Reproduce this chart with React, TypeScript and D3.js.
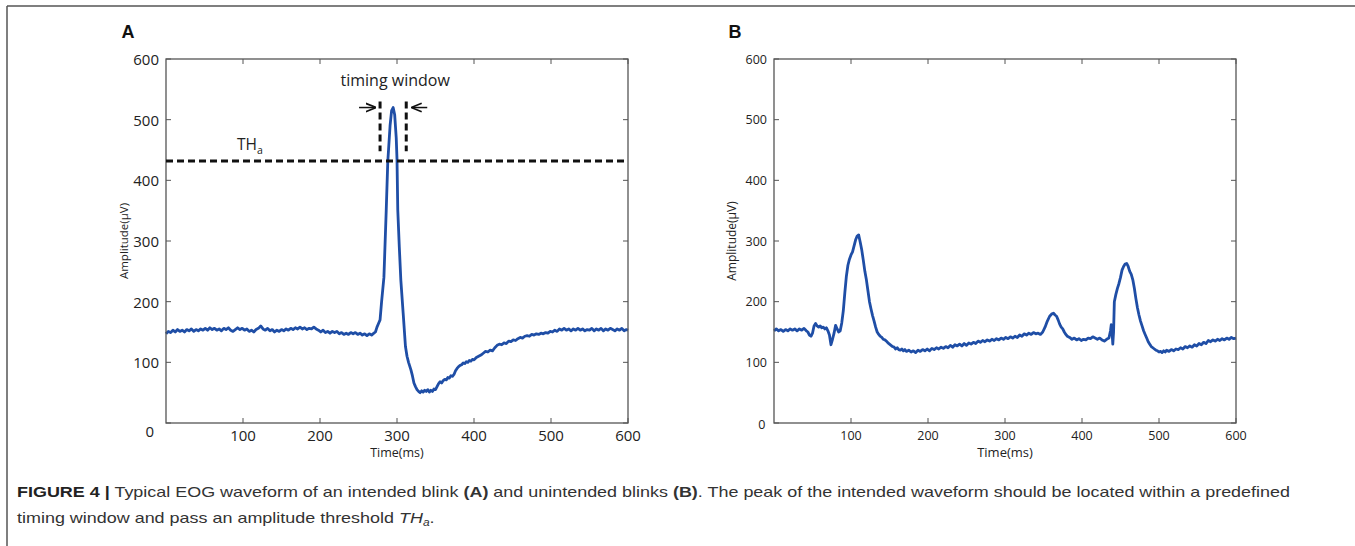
import React, { useLayoutEffect, useRef, useState } from "react";
import * as d3 from "d3";

// EOG traces: [time (ms), amplitude (µV)]
const blinkA: [number, number][] = [
  [0, 147], [3, 151], [6, 149], [9, 153], [12, 150], [15, 154], [18, 151], [21, 153], [24, 150], [27, 154],
  [30, 152], [33, 155], [36, 151], [39, 154], [42, 152], [45, 155], [48, 153], [51, 156], [54, 153], [57, 157],
  [60, 154], [63, 156], [66, 153], [69, 155], [72, 152], [75, 156], [78, 154], [81, 157], [84, 153], [87, 151],
  [90, 154], [93, 157], [96, 154], [99, 156], [102, 153], [105, 155], [108, 151], [111, 153], [114, 150], [117, 154],
  [120, 156], [123, 160], [126, 155], [129, 153], [132, 156], [135, 152], [138, 154], [141, 150], [144, 153], [147, 151],
  [150, 154], [153, 152], [156, 155], [159, 153], [162, 156], [165, 154], [168, 157], [171, 155], [174, 158], [177, 155],
  [180, 157], [183, 154], [186, 156], [189, 155], [192, 158], [195, 155], [198, 153], [201, 150], [204, 153], [207, 149],
  [210, 151], [213, 148], [216, 151], [219, 149], [222, 151], [225, 147], [228, 149], [231, 146], [234, 148], [237, 146],
  [240, 149], [243, 147], [246, 149], [249, 146], [252, 148], [255, 145], [258, 147], [261, 144], [264, 147], [267, 145],
  [270, 148], [272, 150], [274, 158], [276, 164], [278, 170], [280, 200], [283, 240], [286, 350], [288, 430], [291, 490],
  [293, 515], [295, 520], [297, 508], [299, 470], [300, 435], [301, 351], [303, 290], [305, 235], [308, 181], [311, 126],
  [313, 110], [315, 100], [318, 88], [320, 78], [322, 66], [324, 60], [326, 55], [328, 52], [330, 50], [332, 53],
  [334, 51], [336, 54], [338, 52], [340, 55], [342, 51], [344, 54], [346, 52], [348, 56], [350, 55], [352, 60],
  [354, 65], [356, 68], [358, 66], [360, 70], [362, 72], [364, 71], [366, 75], [368, 74], [370, 78], [372, 77],
  [374, 80], [376, 86], [378, 90], [380, 93], [382, 95], [384, 96], [386, 99], [388, 98], [390, 101], [392, 100],
  [394, 103], [396, 102], [398, 105], [400, 104], [403, 108], [406, 110], [409, 112], [412, 115], [415, 118], [418, 117],
  [421, 120], [424, 119], [427, 124], [430, 128], [433, 130], [436, 129], [439, 132], [442, 131], [445, 135], [448, 134],
  [451, 137], [454, 136], [457, 139], [460, 141], [463, 140], [466, 143], [469, 144], [472, 143], [475, 146], [478, 145],
  [481, 147], [484, 146], [487, 148], [490, 147], [493, 149], [496, 148], [499, 151], [502, 150], [505, 153], [508, 151],
  [511, 155], [514, 153], [517, 156], [520, 153], [523, 155], [526, 152], [529, 155], [532, 153], [535, 156], [538, 153],
  [541, 155], [544, 152], [547, 154], [550, 153], [553, 156], [556, 152], [559, 155], [562, 153], [565, 156], [568, 152],
  [571, 155], [574, 153], [577, 156], [580, 154], [583, 152], [586, 155], [589, 153], [592, 156], [595, 152], [598, 154],
  [600, 153],
];

const blinkB: [number, number][] = [
  [0, 152], [3, 155], [6, 152], [9, 154], [12, 151], [15, 154], [18, 152], [21, 155], [24, 153], [27, 155],
  [30, 152], [33, 155], [36, 153], [39, 156], [42, 152], [44, 150], [46, 145], [48, 143], [50, 148], [52, 160],
  [54, 164], [56, 160], [58, 158], [60, 160], [62, 157], [64, 158], [66, 155], [68, 157], [70, 152], [72, 145],
  [74, 129], [76, 138], [78, 148], [80, 161], [82, 155], [84, 150], [86, 152], [88, 165], [90, 185], [92, 215],
  [94, 242], [96, 260], [98, 270], [100, 277], [102, 282], [104, 292], [106, 302], [108, 308], [110, 310], [112, 298],
  [114, 285], [116, 268], [118, 250], [120, 236], [122, 218], [124, 200], [126, 188], [128, 177], [130, 168], [132, 158],
  [134, 150], [136, 146], [138, 143], [140, 141], [142, 138], [144, 137], [146, 135], [148, 132], [150, 130], [152, 128],
  [154, 126], [156, 125], [158, 122], [160, 124], [162, 121], [164, 120], [166, 122], [168, 119], [170, 121], [172, 118],
  [175, 120], [178, 117], [181, 119], [184, 116], [187, 120], [190, 118], [193, 121], [196, 119], [199, 122], [202, 119],
  [205, 123], [208, 121], [211, 124], [214, 122], [217, 125], [220, 123], [223, 126], [226, 124], [229, 128], [232, 125],
  [235, 129], [238, 127], [241, 130], [244, 127], [247, 131], [250, 128], [253, 132], [256, 130], [259, 133], [262, 131],
  [265, 135], [268, 133], [271, 136], [274, 134], [277, 137], [280, 135], [283, 138], [286, 136], [289, 139], [292, 137],
  [295, 140], [298, 138], [301, 141], [304, 139], [307, 142], [310, 140], [313, 143], [316, 141], [319, 145], [322, 143],
  [325, 147], [328, 145], [331, 148], [334, 146], [337, 149], [340, 147], [343, 148], [346, 146], [349, 150], [352, 158],
  [355, 168], [358, 176], [361, 180], [363, 181], [365, 178], [367, 176], [369, 170], [371, 163], [373, 158], [375, 155],
  [377, 150], [379, 146], [381, 143], [384, 141], [387, 138], [390, 140], [393, 137], [396, 139], [399, 136], [402, 138],
  [405, 137], [408, 140], [411, 139], [414, 142], [417, 140], [420, 138], [423, 140], [426, 137], [429, 135], [432, 138],
  [435, 140], [437, 152], [438, 162], [439, 150], [440, 130], [441, 150], [442, 200], [444, 212], [446, 222], [448, 230],
  [450, 240], [452, 252], [454, 258], [456, 262], [458, 263], [460, 258], [462, 250], [464, 245], [466, 236], [468, 222],
  [470, 205], [472, 190], [474, 178], [476, 168], [478, 160], [480, 152], [482, 146], [484, 140], [486, 134], [488, 130],
  [490, 126], [492, 124], [494, 122], [496, 120], [498, 119], [500, 117], [502, 118], [504, 116], [506, 119], [508, 117],
  [510, 120], [513, 118], [516, 121], [519, 119], [522, 122], [525, 121], [528, 124], [531, 122], [534, 126], [537, 124],
  [540, 127], [543, 125], [546, 129], [549, 127], [552, 131], [555, 129], [558, 133], [561, 131], [564, 136], [567, 134],
  [570, 137], [573, 135], [576, 138], [579, 136], [582, 139], [585, 137], [588, 140], [591, 138], [594, 141], [597, 139],
  [600, 140],
];

const timeTicks = [100, 200, 300, 400, 500, 600];
const ampTicks = [0, 100, 200, 300, 400, 500, 600];
const threshold = 432; // TH_a
const timingWindow = [278, 312];
const windowSpan = [448, 530]; // vertical extent of the window markers (µV)

const W = 1355;
const H = 546;
const plotTop = 59;
const plotBottom = 423;
const blue = "#1f4ea6";
const axisColor = "#555";
const font = "'Open Sans', 'DejaVu Sans', sans-serif";
const capFont = "'Liberation Sans', Arial, sans-serif";
const captionWidth = 1273; // first caption line runs from x=17 to ~1290

const makeScales = (left: number, right: number) => ({
  x: d3.scaleLinear().domain([0, 600]).range([left, right]),
  y: d3.scaleLinear().domain([0, 600]).range([plotBottom, plotTop]),
});

type PanelProps = {
  data: [number, number][];
  left: number;
  right: number;
  tickFont: number;
  titleFont: number;
  ampFont: number;
  ampX: number;
  zeroShift: number;
  children?: React.ReactNode;
};

const Panel = ({ data, left, right, tickFont, titleFont, ampFont, ampX, zeroShift, children }: PanelProps) => {
  const { x, y } = makeScales(left, right);
  const line = d3
    .line<[number, number]>()
    .x((d) => x(d[0]))
    .y((d) => y(d[1]));
  const tk = 5;
  const mid = (plotTop + plotBottom) / 2;

  return (
    <g>
      {/* data */}
      <path d={line(data) || ""} fill="none" stroke={blue} strokeWidth={2.8} strokeLinejoin="round" />

      {/* box */}
      <rect x={left} y={plotTop} width={right - left} height={plotBottom - plotTop} fill="none" stroke={axisColor} strokeWidth={1.3} />
      {timeTicks.map((t) => (
        <g key={"x" + t}>
          <line x1={x(t)} x2={x(t)} y1={plotBottom} y2={plotBottom - tk} stroke={axisColor} strokeWidth={1} />
          <line x1={x(t)} x2={x(t)} y1={plotTop} y2={plotTop + tk} stroke={axisColor} strokeWidth={1} />
          <text x={x(t)} y={plotBottom + 12} fontSize={tickFont} fontFamily={font} fill="#222" textAnchor="middle" dominantBaseline="central">
            {t}
          </text>
        </g>
      ))}
      {ampTicks.map((a) => (
        <g key={"y" + a}>
          <line x1={left} x2={left + tk} y1={y(a)} y2={y(a)} stroke={axisColor} strokeWidth={1} />
          <line x1={right} x2={right - tk} y1={y(a)} y2={y(a)} stroke={axisColor} strokeWidth={1} />
          <text
            x={a === 0 ? left - 8 - zeroShift / 2 : left - 7}
            y={y(a) + (a === 0 ? zeroShift : 0)}
            fontSize={tickFont}
            fontFamily={font}
            fill="#222"
            textAnchor="end"
            dominantBaseline="central"
          >
            {a}
          </text>
        </g>
      ))}

      <text x={(left + right) / 2} y={452} fontSize={titleFont} fontFamily={font} fill="#222" textAnchor="middle" dominantBaseline="central">
        Time(ms)
      </text>
      <text
        transform={`translate(${ampX},${mid}) rotate(-90)`}
        fontSize={ampFont}
        fontFamily={font}
        fill="#222"
        textAnchor="middle"
        dominantBaseline="central"
      >
        Amplitude(μV)
      </text>
      {children}
    </g>
  );
};

const App = () => {
  const a = makeScales(166, 628);
  const arrowY = a.y(520);
  const dash = "7 4";

  // both caption lines get the same horizontal stretch
  const line1 = useRef<SVGTextElement>(null);
  const line2 = useRef<SVGTextElement>(null);
  const [lens, setLens] = useState<[number, number] | null>(null);
  useLayoutEffect(() => {
    if (line1.current && line2.current) {
      const n1 = line1.current.getComputedTextLength();
      const n2 = line2.current.getComputedTextLength();
      setLens([captionWidth, (n2 * captionWidth) / n1]);
    }
  }, []);

  return (
    <svg
      width={W}
      height={H}
      viewBox={`0 0 ${W} ${H}`}
      style={{ position: "absolute", left: 0, top: 0, background: "#fff", display: "block" }}
    >
      <defs>
        <marker id="head" viewBox="0 0 10 10" refX="9" refY="5" markerWidth="7" markerHeight="7" orient="auto-start-reverse">
          <path d="M0,1 L10,5 L0,9" fill="none" stroke="#111" strokeWidth={1.6} />
        </marker>
      </defs>

      {/* figure frame */}
      <line x1={7} x2={W} y1={6} y2={6} stroke="#555" strokeWidth={1.5} />
      <line x1={7} x2={7} y1={6} y2={H} stroke="#555" strokeWidth={1.5} />

      <text x={128} y={32} fontSize={18} fontWeight="bold" fontFamily={capFont} fill="#111" textAnchor="middle" dominantBaseline="central">
        A
      </text>
      <text x={735} y={32} fontSize={18} fontWeight="bold" fontFamily={capFont} fill="#111" textAnchor="middle" dominantBaseline="central">
        B
      </text>

      <Panel data={blinkA} left={166} right={628} tickFont={15} titleFont={12.5} ampFont={11.5} ampX={123} zeroShift={8}>
        {/* threshold */}
        <line x1={a.x(0)} x2={a.x(600)} y1={a.y(threshold)} y2={a.y(threshold)} stroke="#111" strokeWidth={3} strokeDasharray={dash} />
        <text x={237} y={a.y(threshold) - 11} fontSize={15.5} fontFamily={font} fill="#222">
          TH<tspan fontSize={10.5} dy={4}>a</tspan>
        </text>
        {/* timing window */}
        {timingWindow.map((t) => (
          <line key={t} x1={a.x(t)} x2={a.x(t)} y1={a.y(windowSpan[1])} y2={a.y(windowSpan[0])} stroke="#111" strokeWidth={3} strokeDasharray={dash} />
        ))}
        <line x1={a.x(timingWindow[0]) - 21} x2={a.x(timingWindow[0]) - 5} y1={arrowY} y2={arrowY} stroke="#111" strokeWidth={1.5} markerEnd="url(#head)" />
        <line x1={a.x(timingWindow[1]) + 21} x2={a.x(timingWindow[1]) + 6} y1={arrowY} y2={arrowY} stroke="#111" strokeWidth={1.5} markerEnd="url(#head)" />
        <text x={a.x((timingWindow[0] + timingWindow[1]) / 2) + 2} y={80} fontSize={16} fontFamily={font} fill="#222" textAnchor="middle" dominantBaseline="central">
          timing window
        </text>
      </Panel>

      <Panel data={blinkB} left={774} right={1236} tickFont={12.5} titleFont={13} ampFont={12} ampX={731} zeroShift={1} />

      {/* caption */}
      <text
        ref={line1}
        x={17}
        y={497}
        fontSize={15}
        fontFamily={capFont}
        fill="#333"
        textLength={lens ? lens[0] : undefined}
        lengthAdjust="spacingAndGlyphs"
      >
        <tspan fontWeight="bold" fill="#222">FIGURE 4 |</tspan> Typical EOG waveform of an intended blink{" "}
        <tspan fontWeight="bold">(A)</tspan> and unintended blinks <tspan fontWeight="bold">(B)</tspan>. The peak of the intended
        waveform should be located within a predefined
      </text>
      <text
        ref={line2}
        x={17}
        y={523}
        fontSize={15}
        fontFamily={capFont}
        fill="#333"
        textLength={lens ? lens[1] : undefined}
        lengthAdjust="spacingAndGlyphs"
      >
        timing window and pass an amplitude threshold <tspan fontStyle="italic">TH</tspan>
        <tspan fontStyle="italic" fontSize={10} dy={3}>a</tspan>
        <tspan dy={-3}>.</tspan>
      </text>
    </svg>
  );
};

export default App;
